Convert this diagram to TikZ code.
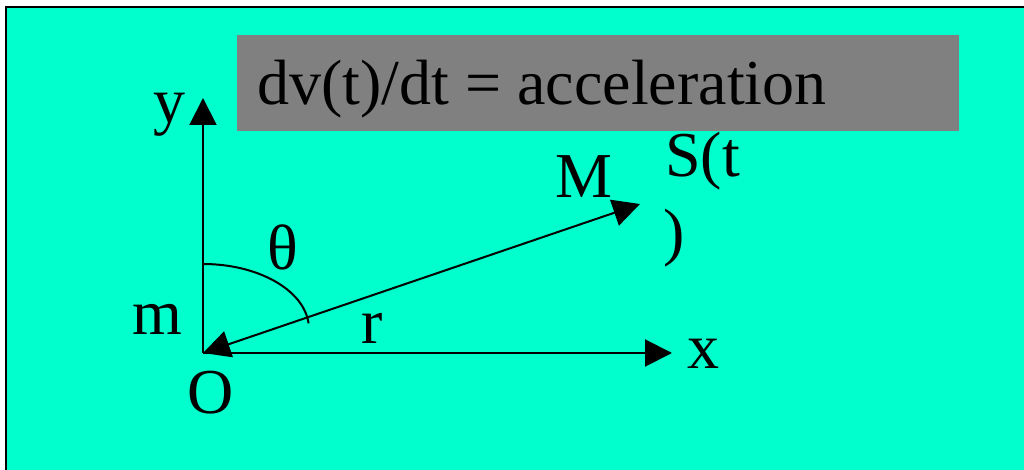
\documentclass[tikz,border=0pt]{standalone}
\usepackage{fontspec}
\setmainfont{Liberation Serif}
\usetikzlibrary{arrows.meta}
\definecolor{bgcyan}{HTML}{00FFCC}
\definecolor{boxgray}{HTML}{808080}
\tikzset{
  axis/.style={line width=1pt, -{Triangle[length=13.5pt,width=13.5pt]}},
  vect/.style={line width=1pt, {Triangle[length=13.5pt,width=13.5pt]}-{Triangle[length=13.5pt,width=13.5pt]}},
  lbl/.style={inner sep=0pt, anchor=base, font=\fontsize{32pt}{38pt}\selectfont},
}
\begin{document}
\begin{tikzpicture}[x=0.5pt,y=-0.5pt]
\useasboundingbox (0,0) rectangle (1024,470);
\fill[white] (0,0) rectangle (1024,470);
\fill[bgcyan] (6,7) rectangle (1024,470);
\draw[line width=1pt] (6,470) -- (6,7) -- (1024,7);
% title box
\node[fill=boxgray, minimum width=361pt, minimum height=48pt, inner sep=0pt, anchor=north west] (box) at (237,35) {};
\node[lbl, anchor=base west] (title) at (257,105) {dv(t)/dt = acceleration};
% points
\coordinate (O) at (203,353);
\coordinate (ytip) at (203,98);
\coordinate (xtip) at (672,353);
\coordinate (Mtip) at (640,204);
\coordinate (arcstart) at (203,264);
% axes
\draw[axis] (O) -- (ytip);
\draw[axis] (O) -- (xtip);
\draw[vect] (O) -- (Mtip);
% angle arc
\draw[line width=1pt] (arcstart) arc[start angle=-90, end angle=-5, x radius=106, y radius=65];
% labels
\node[lbl] (ly) at (169,123) {y};
\node[lbl] (lm) at (157,335) {m};
\node[lbl] (lO) at (211,414) {O};
\node[lbl] (lth) at (283,270) {θ};
\node[lbl] (lr) at (372,344) {r};
\node[lbl] (lx) at (703,369) {x};
\node[lbl] (lM) at (584,198) {M};
\node[lbl, anchor=base west] (lS) at (665,177) {S(t};
\node[lbl, anchor=base west] (lS2) at (663,254) {)};
\end{tikzpicture}
\end{document}
